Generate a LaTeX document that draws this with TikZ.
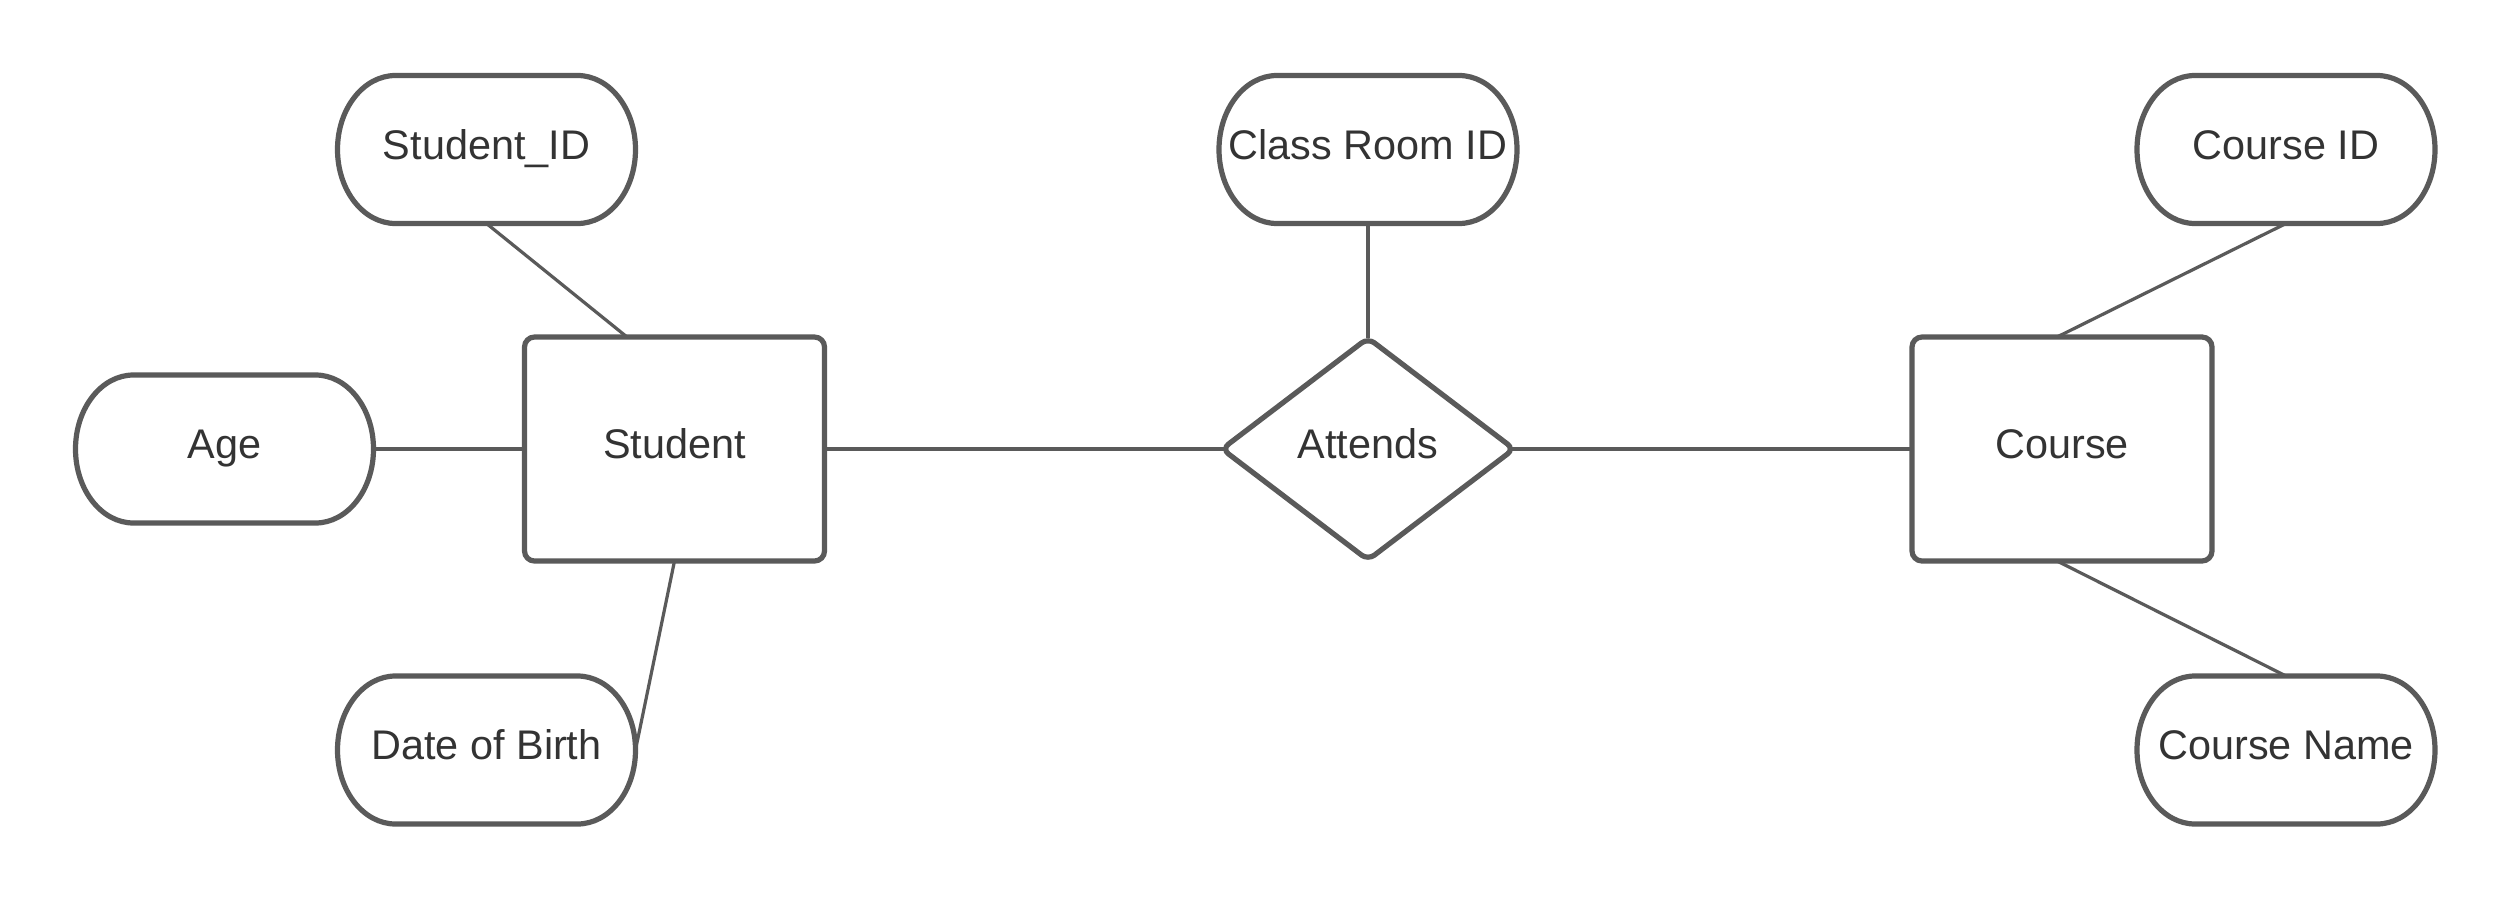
\documentclass[tikz,border=0pt]{standalone}
\usepackage{fontspec}
\setmainfont{Liberation Sans}
\usetikzlibrary{shapes.geometric}
\definecolor{linec}{HTML}{5A5A5A}
\definecolor{textc}{HTML}{333333}
\tikzset{
  base/.style={inner sep=0pt, outer sep=0pt, text=textc,
    font=\fontsize{20.7pt}{24pt}\selectfont, text height=14.8pt, text depth=5pt},
  entity/.style={base, rectangle, draw=linec, line width=2.6pt, rounded corners=5pt,
    minimum width=150pt, minimum height=112pt},
  relation/.style={base, diamond, draw=linec, line width=2.6pt, rounded corners=4pt,
    minimum width=146pt, minimum height=111pt},
  attr/.style={base, rectangle, minimum width=149pt, minimum height=74pt},
  attrline/.style={draw=linec, line width=2.6pt},
  conn/.style={draw=linec, line width=1.6pt},
  todiamond/.style={conn, shorten >=-2pt},
  fromdiamond/.style={conn, shorten <=-2pt}
}
\begin{document}
\begin{tikzpicture}[x=0.5pt, y=-0.5pt]
\path[use as bounding box, fill=white] (0,0) rectangle (2513,900);

% entities and relation
\node[entity] (student) at (674.5,449) {Student};
\node[entity] (course) at (2062,449) {Course};
\node[relation] (attends) at (1368,449) {Attends};

% attributes
\node[attr] (sid) at (486.5,149.5) {Student\_ID};
\node[attr] (age) at (224.5,449) {Age};
\node[attr] (dob) at (486.5,750) {Date of Birth};
\node[attr] (crid) at (1368,149.5) {Class Room ID};
\node[attr] (cid) at (2286,149.5) {Course ID};
\node[attr] (cname) at (2286,750) {Course Name};

% attribute outlines
\foreach \n in {sid,age,dob,crid,cid,cname}{
  \draw[attrline] ([xshift=29pt]\n.north west) -- ([xshift=-29pt]\n.north east)
    arc[start angle=90, end angle=-90, x radius=29pt, y radius=37pt]
    -- ([xshift=29pt]\n.south west)
    arc[start angle=270, end angle=90, x radius=29pt, y radius=37pt] -- cycle;
}

% connectors
\draw[conn] (sid.south) -- ([xshift=-23.75pt]student.north);
\draw[conn] (age.east) -- (student.west);
\draw[conn] (student.south) -- (dob.east);
\draw[todiamond] (student.east) -- (attends.west);
\draw[conn] (crid.south) -- (attends.north);
\draw[fromdiamond] (attends.east) -- (course.west);
\draw[conn] (cid.south) -- ([xshift=-2.5pt]course.north);
\draw[conn] ([xshift=-2.5pt]course.south) -- (cname.north);
\end{tikzpicture}
\end{document}
